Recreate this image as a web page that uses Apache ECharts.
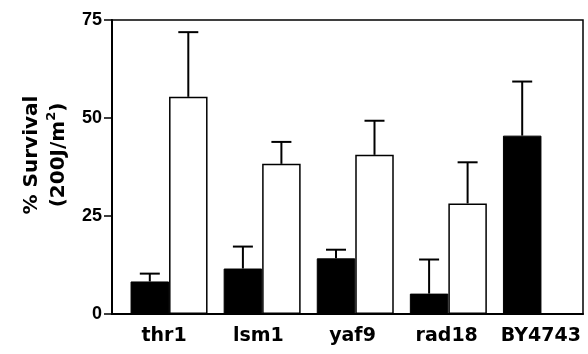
<!DOCTYPE html>
<html><head><meta charset="utf-8">
<script src="https://cdn.jsdelivr.net/npm/echarts@6/dist/echarts.min.js"></script>
<style>html,body{margin:0;padding:0;background:#fff}#c{width:588px;height:354px}</style>
</head><body><div id="c"></div>
<script>
// ---- data ----
const categories = ['thr1', 'lsm1', 'yaf9', 'rad18', 'BY4743'];
const blackValues = [8.3, 11.6, 14.2, 5.2, 45.5];
const blackErrors = [2.0, 5.6, 2.2, 8.7, 13.8];
const whiteValues = [55.4, 38.3, 40.6, 28.2, null];
const whiteErrors = [16.5, 5.6, 8.7, 10.5, null];
const yTicks = [0, 25, 50, 75];
const yTitleLine1 = '% Survival';
const yTitleLine2 = '(200J/m';
const yTitleSup = '2';

// ---- styling ----
const BAR_W = 38.5;
const CAP = 10;
const F_SANS = '"DejaVu Sans", sans-serif';
const F_TICK = '"Liberation Sans", Arial, sans-serif';

function errData(vals, errs) {
  const out = [];
  vals.forEach((v, i) => { if (v != null && errs[i] != null) out.push([i, v, errs[i]]); });
  return out;
}
function errRender(offset) {
  return function (params, api) {
    const i = api.value(0), v = api.value(1), e = api.value(2);
    const b = api.coord([i, v]);
    const t = api.coord([i, v + e]);
    const x = b[0] + offset;
    const st = { stroke: '#000', lineWidth: 2 };
    return { type: 'group', children: [
      { type: 'line', shape: { x1: x, y1: b[1], x2: x, y2: t[1] }, style: st },
      { type: 'line', shape: { x1: x - CAP, y1: t[1], x2: x + CAP, y2: t[1] }, style: st }
    ]};
  };
}

const chart = echarts.init(document.getElementById('c'), null, { renderer: 'canvas' });
chart.setOption({
  animation: false,
  backgroundColor: '#fff',
  grid: [
    { left: 112, top: 20, width: 471, height: 294, show: true, borderColor: '#000', borderWidth: 1.5, backgroundColor: 'transparent' },
    { left: 122.5, top: 20, width: 475, height: 294 }
  ],
  xAxis: [
    { gridIndex: 0, type: 'category', data: categories,
      axisLine: { lineStyle: { color: '#000', width: 2 } },
      axisTick: { show: false },
      axisLabel: { interval: 0, color: '#000', fontFamily: F_SANS, fontWeight: 'bold', fontSize: 19, margin: 13, padding: [0, 0, 0, 10] } },
    { gridIndex: 1, type: 'category', data: categories, show: false }
  ],
  yAxis: [
    { gridIndex: 0, type: 'value', min: yTicks[0], max: yTicks[yTicks.length - 1], interval: yTicks[1] - yTicks[0],
      axisLine: { show: true, lineStyle: { color: '#000', width: 2 } },
      axisTick: { show: true, length: 8, lineStyle: { color: '#000', width: 1.5 } },
      splitLine: { show: false },
      axisLabel: { color: '#000', fontFamily: F_TICK, fontWeight: 'bold', fontSize: 18, margin: 10 },
      name: '{t|' + yTitleLine1 + '}\n{t|' + yTitleLine2 + '}{s|' + yTitleSup + '}{t|)}',
      nameLocation: 'middle', nameGap: 40, nameRotate: 90,
      nameTextStyle: {
        padding: [0, 0, 0, 24],
        rich: {
          t: { fontFamily: F_SANS, fontWeight: 'bold', fontSize: 20, lineHeight: 27, color: '#000' },
          s: { fontFamily: F_SANS, fontWeight: 'bold', fontSize: 13, lineHeight: 27, color: '#000', verticalAlign: 'top' }
        }
      } },
    { gridIndex: 1, type: 'value', min: yTicks[0], max: yTicks[yTicks.length - 1], show: false }
  ],
  series: [
    { type: 'bar', xAxisIndex: 1, yAxisIndex: 1, data: blackValues, barWidth: BAR_W, barGap: '0%',
      itemStyle: { color: '#000', borderColor: '#000', borderWidth: 1 } },
    { type: 'bar', xAxisIndex: 1, yAxisIndex: 1, data: whiteValues, barWidth: BAR_W, barGap: '0%',
      itemStyle: { color: '#fff', borderColor: '#000', borderWidth: 1.5 } },
    { type: 'custom', xAxisIndex: 1, yAxisIndex: 1, renderItem: errRender(-BAR_W / 2), data: errData(blackValues, blackErrors), z: 5 },
    { type: 'custom', xAxisIndex: 1, yAxisIndex: 1, renderItem: errRender(BAR_W / 2), data: errData(whiteValues, whiteErrors), z: 5 }
  ]
});
</script>
</body></html>
